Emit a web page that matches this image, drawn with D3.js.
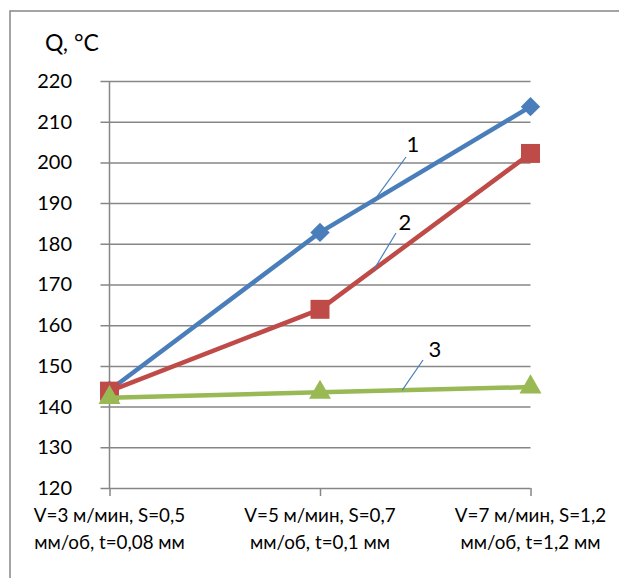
<!DOCTYPE html>
<html>
<head>
<meta charset="utf-8">
<script src="https://cdn.jsdelivr.net/npm/d3@7"></script>
<style>
  html, body { margin: 0; padding: 0; background: #fff; }
  svg { display: block; }
  text { font-family: "Lato", "Open Sans", sans-serif; fill: #000; }
</style>
</head>
<body>
<div id="chart"></div>
<script>
// Cutting regimes (two-line category labels)
const categories = [
  ["V=3 м/мин, S=0,5", "мм/об, t=0,08 мм"],
  ["V=5 м/мин, S=0,7", "мм/об, t=0,1 мм"],
  ["V=7 м/мин, S=1,2", "мм/об, t=1,2 мм"]
];
// Temperature Q, °C for each curve
const series1 = [144.0, 182.8, 213.7];
const series2 = [143.8, 163.9, 202.2];
const series3 = [142.2, 143.5, 144.8];
const yTicks = [120, 130, 140, 150, 160, 170, 180, 190, 200, 210, 220];
const curveLabels = ["1", "2", "3"];

const W = 619, H = 578;
const svg = d3.select("#chart").append("svg").attr("width", W).attr("height", H);

// outer frame
svg.append("rect")
  .attr("x", 10).attr("y", 11).attr("width", 640).attr("height", 600)
  .attr("fill", "none").attr("stroke", "#868686").attr("stroke-width", 1.5);

const x = d3.scalePoint().domain(d3.range(categories.length)).range([109.5, 530.5]);
const y = d3.scaleLinear().domain([120, 220]).range([488, 81]);

// horizontal gridlines with left ticks
const yAxis = d3.axisLeft(y).tickValues(yTicks).tickSize(-(530.5 - 109.5)).tickPadding(37.5)
  .tickSizeOuter(0);
const gy = svg.append("g").attr("transform", "translate(109.5,0)").call(yAxis);
gy.select(".domain").remove();
gy.selectAll(".tick line").attr("stroke", "#868686").attr("stroke-width", 1.5).attr("x1", -9);
gy.selectAll(".tick text").attr("font-size", 20).attr("font-family", "Lato, sans-serif")
  .attr("fill", "#000");

// vertical axis line
svg.append("line").attr("x1", 109.5).attr("x2", 109.5).attr("y1", y(220)).attr("y2", y(120))
  .attr("stroke", "#868686").attr("stroke-width", 1.5);

// category axis ticks
const gx = svg.append("g").attr("transform", `translate(0,${y(120)})`)
  .call(d3.axisBottom(x).tickSize(8).tickFormat(""));
gx.select(".domain").remove();
gx.selectAll(".tick line").attr("stroke", "#868686").attr("stroke-width", 1.5);

// category labels
const catG = svg.append("g");
categories.forEach((lines, i) => {
  const t = catG.append("text").attr("x", x(i)).attr("y", 522)
    .attr("text-anchor", "middle").attr("font-size", 18.8);
  lines.forEach((s, j) => {
    t.append("tspan").attr("x", x(i)).attr("dy", j === 0 ? 0 : 27).text(s);
  });
});

// y-axis title
svg.append("text").attr("x", 45).attr("y", 51).attr("font-size", 23).text("Q, °C");

const line = d3.line().x((d, i) => x(i)).y(d => y(d));
const styles = [
  { data: series1, color: "#4A7EBB", marker: d3.symbolDiamond2, size: 240 },
  { data: series2, color: "#BE4B48", marker: d3.symbolSquare, size: 360 },
  { data: series3, color: "#98B954", marker: d3.symbolTriangle, size: 210 }
];

// each curve drawn in order: line, then its markers; later curves overlap earlier ones
styles.forEach(s => {
  const g = svg.append("g");
  g.append("path").datum(s.data).attr("d", line)
    .attr("fill", "none").attr("stroke", s.color).attr("stroke-width", 4.5)
    .attr("stroke-linejoin", "round");
  g.selectAll("path.m").data(s.data).join("path").attr("class", "m")
    .attr("transform", (d, i) => `translate(${x(i)},${y(d)})`)
    .attr("d", d3.symbol(s.marker, s.size))
    .attr("fill", s.color);
});

// curve number callouts with leader lines to their curves
const callouts = [
  { text: curveLabels[0], tx: 413, ty: 152, from: [406, 157], at: 1.26, data: series1 },
  { text: curveLabels[1], tx: 405, ty: 230, from: [396, 233], at: 1.257, data: series2 },
  { text: curveLabels[2], tx: 435, ty: 357, from: [423, 360], at: 1.39, data: series3 }
];
callouts.forEach(c => {
  const i0 = Math.floor(c.at), f = c.at - i0;
  const px = x(i0) + (x(i0 + 1) - x(i0)) * f;
  const py = y(c.data[i0] + (c.data[i0 + 1] - c.data[i0]) * f);
  svg.append("line").attr("x1", c.from[0]).attr("y1", c.from[1]).attr("x2", px).attr("y2", py)
    .attr("stroke", "#4A7EBB").attr("stroke-width", 1.2);
  svg.append("text").attr("x", c.tx).attr("y", c.ty).attr("text-anchor", "middle")
    .attr("font-size", 22).text(c.text);
});
</script>
</body>
</html>
